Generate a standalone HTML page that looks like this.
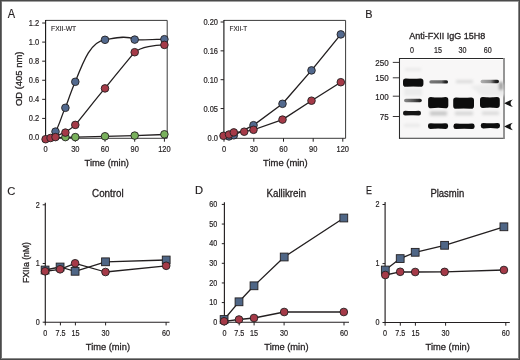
<!DOCTYPE html><html><head><meta charset="utf-8"><style>html,body{margin:0;padding:0;background:#fff;}svg{display:block;will-change:transform;}</style></head><body>
<svg width="520" height="360" viewBox="0 0 520 360" font-family='"Liberation Sans", sans-serif'>
<defs><filter id="b1" x="-20%" y="-50%" width="140%" height="200%"><feGaussianBlur stdDeviation="0.65"/></filter><filter id="b2" x="-20%" y="-80%" width="140%" height="260%"><feGaussianBlur stdDeviation="1.6"/></filter></defs>
<rect x="0" y="0" width="520" height="360" fill="#fff"/>
<text x="7.7" y="17.8" font-size="12.0" text-anchor="start" fill="#231f20" stroke="#231f20" stroke-width="0.15" textLength="7.36" lengthAdjust="spacingAndGlyphs">A</text>
<text x="365.3" y="17.7" font-size="11.8" text-anchor="start" fill="#231f20" stroke="#231f20" stroke-width="0.2" textLength="7.24" lengthAdjust="spacingAndGlyphs">B</text>
<text x="7.2" y="194.5" font-size="11.7" text-anchor="start" fill="#231f20" stroke="#231f20" stroke-width="0.15" textLength="8.11" lengthAdjust="spacingAndGlyphs">C</text>
<text x="195.0" y="194.3" font-size="11.4" text-anchor="start" fill="#231f20" stroke="#231f20" stroke-width="0.2" textLength="8.07" lengthAdjust="spacingAndGlyphs">D</text>
<text x="366.0" y="194.3" font-size="11.4" text-anchor="start" fill="#231f20" stroke="#231f20" stroke-width="0.25" textLength="5.93" lengthAdjust="spacingAndGlyphs">E</text>
<path d="M45.6,138.3 L167.2,138.3 L167.2,20.4 L45.6,20.4" fill="none" stroke="#3a3a3a" stroke-width="1"/>
<line x1="45.6" y1="19.9" x2="45.6" y2="138.8" stroke="#111" stroke-width="1.1"/>
<line x1="42.2" y1="137.5" x2="45.6" y2="137.5" stroke="#231f20" stroke-width="1"/>
<text x="39.2" y="140.4" font-size="8.7" text-anchor="end" fill="#231f20" stroke="#231f20" stroke-width="0.2" textLength="10.4" lengthAdjust="spacingAndGlyphs">0.0</text>
<line x1="42.2" y1="118.42" x2="45.6" y2="118.42" stroke="#231f20" stroke-width="1"/>
<text x="39.2" y="121.32000000000001" font-size="8.7" text-anchor="end" fill="#231f20" stroke="#231f20" stroke-width="0.2" textLength="10.4" lengthAdjust="spacingAndGlyphs">0.2</text>
<line x1="42.2" y1="99.34" x2="45.6" y2="99.34" stroke="#231f20" stroke-width="1"/>
<text x="39.2" y="102.24000000000001" font-size="8.7" text-anchor="end" fill="#231f20" stroke="#231f20" stroke-width="0.2" textLength="10.4" lengthAdjust="spacingAndGlyphs">0.4</text>
<line x1="42.2" y1="80.26000000000002" x2="45.6" y2="80.26000000000002" stroke="#231f20" stroke-width="1"/>
<text x="39.2" y="83.16000000000003" font-size="8.7" text-anchor="end" fill="#231f20" stroke="#231f20" stroke-width="0.2" textLength="10.4" lengthAdjust="spacingAndGlyphs">0.6</text>
<line x1="42.2" y1="61.18000000000001" x2="45.6" y2="61.18000000000001" stroke="#231f20" stroke-width="1"/>
<text x="39.2" y="64.08000000000001" font-size="8.7" text-anchor="end" fill="#231f20" stroke="#231f20" stroke-width="0.2" textLength="10.4" lengthAdjust="spacingAndGlyphs">0.8</text>
<line x1="42.2" y1="42.10000000000001" x2="45.6" y2="42.10000000000001" stroke="#231f20" stroke-width="1"/>
<text x="39.2" y="45.00000000000001" font-size="8.7" text-anchor="end" fill="#231f20" stroke="#231f20" stroke-width="0.2" textLength="10.4" lengthAdjust="spacingAndGlyphs">1.0</text>
<line x1="42.2" y1="23.020000000000024" x2="45.6" y2="23.020000000000024" stroke="#231f20" stroke-width="1"/>
<text x="39.2" y="25.920000000000023" font-size="8.7" text-anchor="end" fill="#231f20" stroke="#231f20" stroke-width="0.2" textLength="10.4" lengthAdjust="spacingAndGlyphs">1.2</text>
<line x1="45.6" y1="138.3" x2="45.6" y2="141.70000000000002" stroke="#231f20" stroke-width="1"/>
<text x="45.6" y="151.9" font-size="8.7" text-anchor="middle" fill="#231f20" stroke="#231f20" stroke-width="0.2" textLength="4.16" lengthAdjust="spacingAndGlyphs">0</text>
<line x1="75.3" y1="138.3" x2="75.3" y2="141.70000000000002" stroke="#231f20" stroke-width="1"/>
<text x="75.3" y="151.9" font-size="8.7" text-anchor="middle" fill="#231f20" stroke="#231f20" stroke-width="0.2" textLength="8.32" lengthAdjust="spacingAndGlyphs">30</text>
<line x1="105.0" y1="138.3" x2="105.0" y2="141.70000000000002" stroke="#231f20" stroke-width="1"/>
<text x="105.0" y="151.9" font-size="8.7" text-anchor="middle" fill="#231f20" stroke="#231f20" stroke-width="0.2" textLength="8.32" lengthAdjust="spacingAndGlyphs">60</text>
<line x1="134.7" y1="138.3" x2="134.7" y2="141.70000000000002" stroke="#231f20" stroke-width="1"/>
<text x="134.7" y="151.9" font-size="8.7" text-anchor="middle" fill="#231f20" stroke="#231f20" stroke-width="0.2" textLength="8.32" lengthAdjust="spacingAndGlyphs">90</text>
<line x1="164.4" y1="138.3" x2="164.4" y2="141.70000000000002" stroke="#231f20" stroke-width="1"/>
<text x="164.4" y="151.9" font-size="8.7" text-anchor="middle" fill="#231f20" stroke="#231f20" stroke-width="0.2" textLength="12.48" lengthAdjust="spacingAndGlyphs">120</text>
<text x="84.6" y="165.8" font-size="9.8" text-anchor="start" fill="#231f20" stroke="#231f20" stroke-width="0.3" textLength="44.4" lengthAdjust="spacingAndGlyphs">Time (min)</text>
<text x="22.2" y="78.8" font-size="9.8" text-anchor="middle" fill="#231f20" stroke="#231f20" stroke-width="0.3" textLength="54.6" lengthAdjust="spacingAndGlyphs" transform="rotate(-90 22.2 78.8)">OD (405 nm)</text>
<text x="51" y="30.5" font-size="7.3" text-anchor="start" fill="#231f20" stroke="#231f20" stroke-width="0.12" textLength="25.2" lengthAdjust="spacingAndGlyphs">FXII-WT</text>
<path d="M45.6,138.4 C49,138.2 52,134.5 55.5,131.6 C60,124 62,114 65.4,107.8 C69,98 72,89 75.3,81.8 C84,59.4 91.5,41.2 104.9,39.8 C111.8,38.9 125,34.3 134.7,39.4 C139,40.6 152,39.6 164.4,39.1" fill="none" stroke="#231f20" stroke-width="1.3"/>
<path d="M45.6,139.2 C48,138.8 51,138 55.5,136.6 C60,134.5 62,133.5 65.3,132.4 C69,130 72,128 75.3,124.9 C86,112 95,100 104.9,88.4 C114.8,76.3 125.6,63 134.7,52.2 C141,47 155,45 164.4,44.9" fill="none" stroke="#231f20" stroke-width="1.3"/>
<path d="M45.6,138 L75.3,137.1 L104.9,136.4 L134.7,135.6 L164.4,134.5" fill="none" stroke="#231f20" stroke-width="1.3"/>
<circle cx="65.4" cy="137.1" r="3.8" fill="#79b15c" stroke="#231f20" stroke-width="0.9"/>
<circle cx="75.3" cy="137.1" r="3.8" fill="#79b15c" stroke="#231f20" stroke-width="0.9"/>
<circle cx="105.0" cy="136.3" r="3.8" fill="#79b15c" stroke="#231f20" stroke-width="0.9"/>
<circle cx="134.7" cy="135.6" r="3.8" fill="#79b15c" stroke="#231f20" stroke-width="0.9"/>
<circle cx="164.4" cy="134.3" r="3.8" fill="#79b15c" stroke="#231f20" stroke-width="0.9"/>
<circle cx="55.5" cy="131.6" r="3.8" fill="#52698e" stroke="#231f20" stroke-width="0.9"/>
<circle cx="65.4" cy="107.8" r="3.8" fill="#52698e" stroke="#231f20" stroke-width="0.9"/>
<circle cx="75.3" cy="81.8" r="3.8" fill="#52698e" stroke="#231f20" stroke-width="0.9"/>
<circle cx="105.0" cy="39.8" r="3.8" fill="#52698e" stroke="#231f20" stroke-width="0.9"/>
<circle cx="134.7" cy="39.6" r="3.8" fill="#52698e" stroke="#231f20" stroke-width="0.9"/>
<circle cx="164.4" cy="39.2" r="3.8" fill="#52698e" stroke="#231f20" stroke-width="0.9"/>
<circle cx="45.6" cy="139.2" r="3.8" fill="#a53a48" stroke="#231f20" stroke-width="0.9"/>
<circle cx="50.550000000000004" cy="138" r="3.8" fill="#a53a48" stroke="#231f20" stroke-width="0.9"/>
<circle cx="55.5" cy="137.1" r="3.8" fill="#a53a48" stroke="#231f20" stroke-width="0.9"/>
<circle cx="65.4" cy="132.6" r="3.8" fill="#a53a48" stroke="#231f20" stroke-width="0.9"/>
<circle cx="75.3" cy="124.9" r="3.8" fill="#a53a48" stroke="#231f20" stroke-width="0.9"/>
<circle cx="105.0" cy="88.4" r="3.8" fill="#a53a48" stroke="#231f20" stroke-width="0.9"/>
<circle cx="134.7" cy="52.2" r="3.8" fill="#a53a48" stroke="#231f20" stroke-width="0.9"/>
<circle cx="164.4" cy="44.9" r="3.8" fill="#a53a48" stroke="#231f20" stroke-width="0.9"/>
<path d="M223.9,138.3 L345.6,138.3 L345.6,20.4 L223.9,20.4" fill="none" stroke="#3a3a3a" stroke-width="1"/>
<line x1="223.9" y1="19.9" x2="223.9" y2="138.8" stroke="#111" stroke-width="1.1"/>
<line x1="220.6" y1="137.4" x2="223.9" y2="137.4" stroke="#231f20" stroke-width="1"/>
<text x="218" y="141.0" font-size="8.7" text-anchor="end" fill="#231f20" stroke="#231f20" stroke-width="0.2" textLength="10.4" lengthAdjust="spacingAndGlyphs">0.0</text>
<line x1="220.6" y1="108.55000000000001" x2="223.9" y2="108.55000000000001" stroke="#231f20" stroke-width="1"/>
<text x="218" y="111.85000000000001" font-size="8.7" text-anchor="end" fill="#231f20" stroke="#231f20" stroke-width="0.2" textLength="14.56" lengthAdjust="spacingAndGlyphs">0.05</text>
<line x1="220.6" y1="79.7" x2="223.9" y2="79.7" stroke="#231f20" stroke-width="1"/>
<text x="218" y="83.0" font-size="8.7" text-anchor="end" fill="#231f20" stroke="#231f20" stroke-width="0.2" textLength="14.56" lengthAdjust="spacingAndGlyphs">0.10</text>
<line x1="220.6" y1="50.85000000000001" x2="223.9" y2="50.85000000000001" stroke="#231f20" stroke-width="1"/>
<text x="218" y="54.150000000000006" font-size="8.7" text-anchor="end" fill="#231f20" stroke="#231f20" stroke-width="0.2" textLength="14.56" lengthAdjust="spacingAndGlyphs">0.16</text>
<line x1="220.6" y1="22.0" x2="223.9" y2="22.0" stroke="#231f20" stroke-width="1"/>
<text x="218" y="25.3" font-size="8.7" text-anchor="end" fill="#231f20" stroke="#231f20" stroke-width="0.2" textLength="14.56" lengthAdjust="spacingAndGlyphs">0.20</text>
<line x1="224" y1="138.3" x2="224" y2="141.70000000000002" stroke="#231f20" stroke-width="1"/>
<text x="224" y="151.9" font-size="8.7" text-anchor="middle" fill="#231f20" stroke="#231f20" stroke-width="0.2" textLength="4.16" lengthAdjust="spacingAndGlyphs">0</text>
<line x1="253.8" y1="138.3" x2="253.8" y2="141.70000000000002" stroke="#231f20" stroke-width="1"/>
<text x="253.8" y="151.9" font-size="8.7" text-anchor="middle" fill="#231f20" stroke="#231f20" stroke-width="0.2" textLength="8.32" lengthAdjust="spacingAndGlyphs">30</text>
<line x1="283.5" y1="138.3" x2="283.5" y2="141.70000000000002" stroke="#231f20" stroke-width="1"/>
<text x="283.5" y="151.9" font-size="8.7" text-anchor="middle" fill="#231f20" stroke="#231f20" stroke-width="0.2" textLength="8.32" lengthAdjust="spacingAndGlyphs">60</text>
<line x1="313.2" y1="138.3" x2="313.2" y2="141.70000000000002" stroke="#231f20" stroke-width="1"/>
<text x="313.2" y="151.9" font-size="8.7" text-anchor="middle" fill="#231f20" stroke="#231f20" stroke-width="0.2" textLength="8.32" lengthAdjust="spacingAndGlyphs">90</text>
<line x1="342.8" y1="138.3" x2="342.8" y2="141.70000000000002" stroke="#231f20" stroke-width="1"/>
<text x="342.8" y="151.9" font-size="8.7" text-anchor="middle" fill="#231f20" stroke="#231f20" stroke-width="0.2" textLength="12.48" lengthAdjust="spacingAndGlyphs">120</text>
<text x="263.1" y="165.8" font-size="9.8" text-anchor="start" fill="#231f20" stroke="#231f20" stroke-width="0.3" textLength="44.6" lengthAdjust="spacingAndGlyphs">Time (min)</text>
<text x="229.5" y="30.8" font-size="7.3" text-anchor="start" fill="#231f20" stroke="#231f20" stroke-width="0.12" textLength="17.8" lengthAdjust="spacingAndGlyphs">FXII-T</text>
<polyline points="223.5,137 229,136.4 233.8,135.3 253.5,125.2 282.5,103.8 311.5,70.4 340.8,34.4" fill="none" stroke="#231f20" stroke-width="1.35" stroke-linejoin="round"/>
<polyline points="223.5,135.8 229,134.5 233.8,132.4 244.2,131.7 253.5,129.8 282.5,119.6 311.5,100.7 340.8,82.2" fill="none" stroke="#231f20" stroke-width="1.35" stroke-linejoin="round"/>
<circle cx="229" cy="136.4" r="3.8" fill="#52698e" stroke="#231f20" stroke-width="0.9"/>
<circle cx="233.8" cy="135.3" r="3.8" fill="#52698e" stroke="#231f20" stroke-width="0.9"/>
<circle cx="253.5" cy="125.2" r="3.8" fill="#52698e" stroke="#231f20" stroke-width="0.9"/>
<circle cx="282.5" cy="103.8" r="3.8" fill="#52698e" stroke="#231f20" stroke-width="0.9"/>
<circle cx="311.5" cy="70.4" r="3.8" fill="#52698e" stroke="#231f20" stroke-width="0.9"/>
<circle cx="340.8" cy="34.4" r="3.8" fill="#52698e" stroke="#231f20" stroke-width="0.9"/>
<circle cx="223.5" cy="135.8" r="3.8" fill="#a53a48" stroke="#231f20" stroke-width="0.9"/>
<circle cx="229" cy="134.5" r="3.8" fill="#a53a48" stroke="#231f20" stroke-width="0.9"/>
<circle cx="233.8" cy="132.4" r="3.8" fill="#a53a48" stroke="#231f20" stroke-width="0.9"/>
<circle cx="244.2" cy="131.7" r="3.8" fill="#a53a48" stroke="#231f20" stroke-width="0.9"/>
<circle cx="253.5" cy="129.8" r="3.8" fill="#a53a48" stroke="#231f20" stroke-width="0.9"/>
<circle cx="282.5" cy="119.6" r="3.8" fill="#a53a48" stroke="#231f20" stroke-width="0.9"/>
<circle cx="311.5" cy="100.7" r="3.8" fill="#a53a48" stroke="#231f20" stroke-width="0.9"/>
<circle cx="340.8" cy="82.2" r="3.8" fill="#a53a48" stroke="#231f20" stroke-width="0.9"/>
<text x="409.2" y="38.8" font-size="9.3" text-anchor="start" fill="#231f20" stroke="#231f20" stroke-width="0.3" textLength="76.2" lengthAdjust="spacingAndGlyphs">Anti-FXII IgG 15H8</text>
<text x="412" y="53.4" font-size="8.3" text-anchor="middle" fill="#231f20" stroke="#231f20" stroke-width="0.2" textLength="3.97" lengthAdjust="spacingAndGlyphs">0</text>
<text x="438" y="53.4" font-size="8.3" text-anchor="middle" fill="#231f20" stroke="#231f20" stroke-width="0.2" textLength="7.94" lengthAdjust="spacingAndGlyphs">15</text>
<text x="462.5" y="53.4" font-size="8.3" text-anchor="middle" fill="#231f20" stroke="#231f20" stroke-width="0.2" textLength="7.94" lengthAdjust="spacingAndGlyphs">30</text>
<text x="487.8" y="53.4" font-size="8.3" text-anchor="middle" fill="#231f20" stroke="#231f20" stroke-width="0.2" textLength="7.94" lengthAdjust="spacingAndGlyphs">60</text>
<line x1="392.8" y1="62.4" x2="399.6" y2="62.4" stroke="#231f20" stroke-width="0.9"/>
<text x="388.7" y="65.7" font-size="8.7" text-anchor="end" fill="#231f20" stroke="#231f20" stroke-width="0.2" textLength="13.35" lengthAdjust="spacingAndGlyphs">250</text>
<line x1="392.8" y1="77.8" x2="399.6" y2="77.8" stroke="#231f20" stroke-width="0.9"/>
<text x="388.7" y="81.1" font-size="8.7" text-anchor="end" fill="#231f20" stroke="#231f20" stroke-width="0.2" textLength="13.35" lengthAdjust="spacingAndGlyphs">150</text>
<line x1="392.8" y1="96.2" x2="399.6" y2="96.2" stroke="#231f20" stroke-width="0.9"/>
<text x="388.7" y="99.5" font-size="8.7" text-anchor="end" fill="#231f20" stroke="#231f20" stroke-width="0.2" textLength="13.35" lengthAdjust="spacingAndGlyphs">100</text>
<line x1="392.8" y1="116.5" x2="399.6" y2="116.5" stroke="#231f20" stroke-width="0.9"/>
<text x="388.7" y="119.8" font-size="8.7" text-anchor="end" fill="#231f20" stroke="#231f20" stroke-width="0.2" textLength="8.9" lengthAdjust="spacingAndGlyphs">75</text>
<rect x="400" y="59" width="103.6" height="79" fill="#fff"/>
<rect x="401" y="60" width="102.2" height="77" fill="#f8f7f7"/>
<line x1="399.5" y1="58" x2="399.5" y2="138.8" stroke="#2a2a2a" stroke-width="1.1"/>
<line x1="399" y1="58.5" x2="504.2" y2="58.5" stroke="#2a2a2a" stroke-width="1"/>
<line x1="399" y1="138.3" x2="504.6" y2="138.3" stroke="#333" stroke-width="1.1"/>
<line x1="504.0" y1="58" x2="504.0" y2="138.8" stroke="#8a8a8a" stroke-width="1.8"/>
<defs><linearGradient id="g1" x1="0" x2="1" y1="0" y2="0"><stop offset="0" stop-color="#8a8a8a"/><stop offset="0.5" stop-color="#5a5a5a"/><stop offset="0.85" stop-color="#2a2a2a"/><stop offset="1" stop-color="#1a1a1a"/></linearGradient><linearGradient id="g2" x1="0" x2="1" y1="0" y2="0"><stop offset="0" stop-color="#777"/><stop offset="0.65" stop-color="#666"/><stop offset="0.85" stop-color="#222"/><stop offset="1" stop-color="#111"/></linearGradient><linearGradient id="g4" x1="0" x2="1" y1="0" y2="0"><stop offset="0" stop-color="#b0b0b0"/><stop offset="0.55" stop-color="#8a8a8a"/><stop offset="0.8" stop-color="#2a2a2a"/><stop offset="1" stop-color="#111"/></linearGradient></defs>
<g filter="url(#b2)">
<rect x="405" y="68.6" width="16" height="1.8" fill="#e0e0e0"/>
<rect x="404" y="88" width="18" height="8" fill="#ebebeb"/>
<rect x="404" y="124.4" width="16" height="2" fill="#e2e2e2"/>
<rect x="430" y="111.4" width="17" height="4" fill="#c4c4c4"/>
<rect x="455" y="111.6" width="18" height="3.6" fill="#d4d4d4"/>
<rect x="482" y="111.6" width="17" height="3.2" fill="#d8d8d8"/>
<rect x="456" y="80.2" width="17" height="2.8" fill="#d8d8d8"/>
<path d="M470,86 L500,83 L504,84 L504,96 L482,96 Z" fill="#ececec"/>
<rect x="499" y="82" width="4" height="8" fill="#9a9a9a"/>
</g>
<g filter="url(#b1)">
<path d="M405.8,78.4 Q413.2,78.9 420.59999999999997,78.4 Q423.4,78.4 423.4,81.2 L423.4,83.9 Q423.4,86.7 420.59999999999997,86.7 Q413.2,86.2 405.8,86.7 Q403.0,86.7 403.0,83.9 L403.0,81.2 Q403.0,78.4 405.8,78.4 Z" fill="#0a0a0a"/>
<rect x="404" y="98.7" width="17.8" height="3.6" rx="1.8" fill="url(#g1)"/>
<path d="M405.2,110.7 Q412.0,111.10000000000001 418.8,110.7 Q421.0,110.7 421.0,112.9 L421.0,113.3 Q421.0,115.5 418.8,115.5 Q412.0,115.1 405.2,115.5 Q403.0,115.5 403.0,113.3 L403.0,112.9 Q403.0,110.7 405.2,110.7 Z" fill="#141414"/>
<rect x="429.4" y="80.2" width="18.6" height="3.4" rx="1.6" fill="url(#g2)"/>
<path d="M430.90000000000003,97.0 Q438.20000000000005,98.0 445.5,97.0 Q448.3,97.0 448.3,99.8 L448.3,105.4 Q448.3,108.2 445.5,108.2 Q438.20000000000005,107.2 430.90000000000003,108.2 Q428.1,108.2 428.1,105.4 L428.1,99.8 Q428.1,97.0 430.90000000000003,97.0 Z" fill="#0a0a0a"/>
<path d="M430.4,123.2 Q438.05,123.8 445.70000000000005,123.2 Q448.1,123.2 448.1,125.60000000000001 L448.1,126.5 Q448.1,128.9 445.70000000000005,128.9 Q438.05,128.3 430.4,128.9 Q428.0,128.9 428.0,126.5 L428.0,125.60000000000001 Q428.0,123.2 430.4,123.2 Z" fill="#0a0a0a"/>
<path d="M456.0,97.4 Q463.6,98.0 471.2,97.4 Q474.0,97.4 474.0,100.2 L474.0,105.9 Q474.0,108.7 471.2,108.7 Q463.6,108.10000000000001 456.0,108.7 Q453.2,108.7 453.2,105.9 L453.2,100.2 Q453.2,97.4 456.0,97.4 Z" fill="#0a0a0a"/>
<path d="M455.9,123.5 Q464.05,124.1 472.20000000000005,123.5 Q474.6,123.5 474.6,125.9 L474.6,126.69999999999999 Q474.6,129.1 472.20000000000005,129.1 Q464.05,128.5 455.9,129.1 Q453.5,129.1 453.5,126.69999999999999 L453.5,125.9 Q453.5,123.5 455.9,123.5 Z" fill="#0a0a0a"/>
<rect x="480.6" y="79.8" width="18.4" height="3.4" rx="1.6" fill="url(#g4)"/>
<path d="M482.8,97.0 Q489.9,97.8 497.0,97.0 Q499.8,97.0 499.8,99.8 L499.8,105.10000000000001 Q499.8,107.9 497.0,107.9 Q489.9,107.10000000000001 482.8,107.9 Q480.0,107.9 480.0,105.10000000000001 L480.0,99.8 Q480.0,97.0 482.8,97.0 Z" fill="#0a0a0a"/>
<path d="M483.2,122.9 Q490.4,123.5 497.6,122.9 Q500.0,122.9 500.0,125.30000000000001 L500.0,126.0 Q500.0,128.4 497.6,128.4 Q490.4,127.80000000000001 483.2,128.4 Q480.8,128.4 480.8,126.0 L480.8,125.30000000000001 Q480.8,122.9 483.2,122.9 Z" fill="#0a0a0a"/>
</g>
<path d="M504.2,103.3 C507,101.7 510,100.39999999999999 512.9,99.6 C511,101.2 510.6,102.3 510.6,103.3 C510.6,104.3 511,105.39999999999999 512.9,107.0 C510,106.2 507,104.89999999999999 504.2,103.3 Z" fill="#111"/>
<path d="M504.2,126.5 C507,124.9 510,123.6 512.9,122.8 C511,124.4 510.6,125.5 510.6,126.5 C510.6,127.5 511,128.6 512.9,130.2 C510,129.4 507,128.1 504.2,126.5 Z" fill="#111"/>
<line x1="45.3" y1="202.8" x2="45.3" y2="322.7" stroke="#231f20" stroke-width="1.15"/>
<line x1="44.8" y1="322.2" x2="169.5" y2="322.2" stroke="#231f20" stroke-width="1.15"/>
<line x1="42.699999999999996" y1="204.8" x2="45.3" y2="204.8" stroke="#231f20" stroke-width="1"/>
<text x="39.699999999999996" y="207.55" font-size="8.4" text-anchor="end" fill="#231f20" stroke="#231f20" stroke-width="0.2" textLength="4.02" lengthAdjust="spacingAndGlyphs">2</text>
<line x1="42.699999999999996" y1="263.5" x2="45.3" y2="263.5" stroke="#231f20" stroke-width="1"/>
<text x="39.699999999999996" y="266.25" font-size="8.4" text-anchor="end" fill="#231f20" stroke="#231f20" stroke-width="0.2" textLength="4.02" lengthAdjust="spacingAndGlyphs">1</text>
<line x1="42.699999999999996" y1="322.2" x2="45.3" y2="322.2" stroke="#231f20" stroke-width="1"/>
<text x="39.699999999999996" y="324.95" font-size="8.4" text-anchor="end" fill="#231f20" stroke="#231f20" stroke-width="0.2" textLength="4.02" lengthAdjust="spacingAndGlyphs">0</text>
<line x1="45.3" y1="322.2" x2="45.3" y2="325.4" stroke="#231f20" stroke-width="1"/>
<text x="45.3" y="336.3" font-size="8.4" text-anchor="middle" fill="#231f20" stroke="#231f20" stroke-width="0.2" textLength="4.02" lengthAdjust="spacingAndGlyphs">0</text>
<line x1="60.4" y1="322.2" x2="60.4" y2="325.4" stroke="#231f20" stroke-width="1"/>
<text x="60.4" y="336.3" font-size="8.4" text-anchor="middle" fill="#231f20" stroke="#231f20" stroke-width="0.2" textLength="10.04" lengthAdjust="spacingAndGlyphs">7.5</text>
<line x1="75.4" y1="322.2" x2="75.4" y2="325.4" stroke="#231f20" stroke-width="1"/>
<text x="75.4" y="336.3" font-size="8.4" text-anchor="middle" fill="#231f20" stroke="#231f20" stroke-width="0.2" textLength="8.03" lengthAdjust="spacingAndGlyphs">15</text>
<line x1="105.6" y1="322.2" x2="105.6" y2="325.4" stroke="#231f20" stroke-width="1"/>
<text x="105.6" y="336.3" font-size="8.4" text-anchor="middle" fill="#231f20" stroke="#231f20" stroke-width="0.2" textLength="8.03" lengthAdjust="spacingAndGlyphs">30</text>
<line x1="166.1" y1="322.2" x2="166.1" y2="325.4" stroke="#231f20" stroke-width="1"/>
<text x="166.1" y="336.3" font-size="8.4" text-anchor="middle" fill="#231f20" stroke="#231f20" stroke-width="0.2" textLength="8.03" lengthAdjust="spacingAndGlyphs">60</text>
<text x="92.1" y="196.9" font-size="10" text-anchor="start" fill="#231f20" stroke="#231f20" stroke-width="0.3" textLength="31.6" lengthAdjust="spacingAndGlyphs">Control</text>
<text x="85.8" y="350" font-size="9.8" text-anchor="start" fill="#231f20" stroke="#231f20" stroke-width="0.3" textLength="44.2" lengthAdjust="spacingAndGlyphs">Time (min)</text>
<polyline points="45.1,270 60.1,267 75.1,271.3 105.5,261.8 166.2,260" fill="none" stroke="#231f20" stroke-width="1.3" stroke-linejoin="round"/>
<polyline points="45.1,271.3 60.1,269.3 75.1,263.3 105.5,272 166.2,265.8" fill="none" stroke="#231f20" stroke-width="1.3" stroke-linejoin="round"/>
<rect x="41.2" y="266.1" width="7.8" height="7.8" fill="#4f6686" stroke="#231f20" stroke-width="0.9"/>
<rect x="56.2" y="263.1" width="7.8" height="7.8" fill="#4f6686" stroke="#231f20" stroke-width="0.9"/>
<rect x="71.19999999999999" y="267.40000000000003" width="7.8" height="7.8" fill="#4f6686" stroke="#231f20" stroke-width="0.9"/>
<rect x="101.6" y="257.90000000000003" width="7.8" height="7.8" fill="#4f6686" stroke="#231f20" stroke-width="0.9"/>
<rect x="162.29999999999998" y="256.1" width="7.8" height="7.8" fill="#4f6686" stroke="#231f20" stroke-width="0.9"/>
<circle cx="45.1" cy="271.3" r="3.85" fill="#a53a48" stroke="#231f20" stroke-width="0.9"/>
<circle cx="60.1" cy="269.3" r="3.85" fill="#a53a48" stroke="#231f20" stroke-width="0.9"/>
<circle cx="75.1" cy="263.3" r="3.85" fill="#a53a48" stroke="#231f20" stroke-width="0.9"/>
<circle cx="105.5" cy="272" r="3.85" fill="#a53a48" stroke="#231f20" stroke-width="0.9"/>
<circle cx="166.2" cy="265.8" r="3.85" fill="#a53a48" stroke="#231f20" stroke-width="0.9"/>
<text x="29.4" y="262.5" font-size="9.6" text-anchor="middle" fill="#231f20" stroke="#231f20" stroke-width="0.3" textLength="41" lengthAdjust="spacingAndGlyphs" transform="rotate(-90 29.4 262.5)">FXIIa (nM)</text>
<line x1="224.4" y1="202.3" x2="224.4" y2="322.7" stroke="#231f20" stroke-width="1.15"/>
<line x1="223.9" y1="322.2" x2="349" y2="322.2" stroke="#231f20" stroke-width="1.15"/>
<line x1="221.8" y1="322.2" x2="224.4" y2="322.2" stroke="#231f20" stroke-width="1"/>
<text x="217.20000000000002" y="324.95" font-size="8.4" text-anchor="end" fill="#231f20" stroke="#231f20" stroke-width="0.2" textLength="4.02" lengthAdjust="spacingAndGlyphs">0</text>
<line x1="221.8" y1="302.57" x2="224.4" y2="302.57" stroke="#231f20" stroke-width="1"/>
<text x="217.20000000000002" y="305.32" font-size="8.4" text-anchor="end" fill="#231f20" stroke="#231f20" stroke-width="0.2" textLength="8.03" lengthAdjust="spacingAndGlyphs">10</text>
<line x1="221.8" y1="282.94" x2="224.4" y2="282.94" stroke="#231f20" stroke-width="1"/>
<text x="217.20000000000002" y="285.69" font-size="8.4" text-anchor="end" fill="#231f20" stroke="#231f20" stroke-width="0.2" textLength="8.03" lengthAdjust="spacingAndGlyphs">20</text>
<line x1="221.8" y1="263.31" x2="224.4" y2="263.31" stroke="#231f20" stroke-width="1"/>
<text x="217.20000000000002" y="266.06" font-size="8.4" text-anchor="end" fill="#231f20" stroke="#231f20" stroke-width="0.2" textLength="8.03" lengthAdjust="spacingAndGlyphs">30</text>
<line x1="221.8" y1="243.67999999999998" x2="224.4" y2="243.67999999999998" stroke="#231f20" stroke-width="1"/>
<text x="217.20000000000002" y="246.42999999999998" font-size="8.4" text-anchor="end" fill="#231f20" stroke="#231f20" stroke-width="0.2" textLength="8.03" lengthAdjust="spacingAndGlyphs">40</text>
<line x1="221.8" y1="224.04999999999998" x2="224.4" y2="224.04999999999998" stroke="#231f20" stroke-width="1"/>
<text x="217.20000000000002" y="226.79999999999998" font-size="8.4" text-anchor="end" fill="#231f20" stroke="#231f20" stroke-width="0.2" textLength="8.03" lengthAdjust="spacingAndGlyphs">50</text>
<line x1="221.8" y1="204.42" x2="224.4" y2="204.42" stroke="#231f20" stroke-width="1"/>
<text x="217.20000000000002" y="207.17" font-size="8.4" text-anchor="end" fill="#231f20" stroke="#231f20" stroke-width="0.2" textLength="8.03" lengthAdjust="spacingAndGlyphs">60</text>
<line x1="224.4" y1="322.2" x2="224.4" y2="325.4" stroke="#231f20" stroke-width="1"/>
<text x="224.4" y="336.3" font-size="8.4" text-anchor="middle" fill="#231f20" stroke="#231f20" stroke-width="0.2" textLength="4.02" lengthAdjust="spacingAndGlyphs">0</text>
<line x1="239.2" y1="322.2" x2="239.2" y2="325.4" stroke="#231f20" stroke-width="1"/>
<text x="239.2" y="336.3" font-size="8.4" text-anchor="middle" fill="#231f20" stroke="#231f20" stroke-width="0.2" textLength="10.04" lengthAdjust="spacingAndGlyphs">7.5</text>
<line x1="254.1" y1="322.2" x2="254.1" y2="325.4" stroke="#231f20" stroke-width="1"/>
<text x="254.1" y="336.3" font-size="8.4" text-anchor="middle" fill="#231f20" stroke="#231f20" stroke-width="0.2" textLength="8.03" lengthAdjust="spacingAndGlyphs">15</text>
<line x1="284.1" y1="322.2" x2="284.1" y2="325.4" stroke="#231f20" stroke-width="1"/>
<text x="284.1" y="336.3" font-size="8.4" text-anchor="middle" fill="#231f20" stroke="#231f20" stroke-width="0.2" textLength="8.03" lengthAdjust="spacingAndGlyphs">30</text>
<line x1="344.0" y1="322.2" x2="344.0" y2="325.4" stroke="#231f20" stroke-width="1"/>
<text x="344.0" y="336.3" font-size="8.4" text-anchor="middle" fill="#231f20" stroke="#231f20" stroke-width="0.2" textLength="8.03" lengthAdjust="spacingAndGlyphs">60</text>
<text x="266.5" y="196.7" font-size="10" text-anchor="start" fill="#231f20" stroke="#231f20" stroke-width="0.3" textLength="39.6" lengthAdjust="spacingAndGlyphs">Kallikrein</text>
<text x="264.3" y="350" font-size="9.8" text-anchor="start" fill="#231f20" stroke="#231f20" stroke-width="0.3" textLength="44.2" lengthAdjust="spacingAndGlyphs">Time (min)</text>
<polyline points="224.1,319.5 239.0,301.8 254.0,285.8 284.2,257 343.8,218" fill="none" stroke="#231f20" stroke-width="1.3" stroke-linejoin="round"/>
<polyline points="224.1,321.3 239.0,319.5 254.0,318 284.2,312 343.8,312" fill="none" stroke="#231f20" stroke-width="1.3" stroke-linejoin="round"/>
<rect x="220.2" y="315.6" width="7.8" height="7.8" fill="#4f6686" stroke="#231f20" stroke-width="0.9"/>
<rect x="235.1" y="297.90000000000003" width="7.8" height="7.8" fill="#4f6686" stroke="#231f20" stroke-width="0.9"/>
<rect x="250.1" y="281.90000000000003" width="7.8" height="7.8" fill="#4f6686" stroke="#231f20" stroke-width="0.9"/>
<rect x="280.3" y="253.1" width="7.8" height="7.8" fill="#4f6686" stroke="#231f20" stroke-width="0.9"/>
<rect x="339.90000000000003" y="214.1" width="7.8" height="7.8" fill="#4f6686" stroke="#231f20" stroke-width="0.9"/>
<circle cx="224.1" cy="321.3" r="3.85" fill="#a53a48" stroke="#231f20" stroke-width="0.9"/>
<circle cx="239.0" cy="319.5" r="3.85" fill="#a53a48" stroke="#231f20" stroke-width="0.9"/>
<circle cx="254.0" cy="318" r="3.85" fill="#a53a48" stroke="#231f20" stroke-width="0.9"/>
<circle cx="284.2" cy="312" r="3.85" fill="#a53a48" stroke="#231f20" stroke-width="0.9"/>
<circle cx="343.8" cy="312" r="3.85" fill="#a53a48" stroke="#231f20" stroke-width="0.9"/>
<line x1="385.1" y1="202.0" x2="385.1" y2="323.0" stroke="#231f20" stroke-width="1.15"/>
<line x1="384.6" y1="322.5" x2="509.8" y2="322.5" stroke="#231f20" stroke-width="1.15"/>
<line x1="382.5" y1="204.5" x2="385.1" y2="204.5" stroke="#231f20" stroke-width="1"/>
<text x="379.5" y="207.25" font-size="8.4" text-anchor="end" fill="#231f20" stroke="#231f20" stroke-width="0.2" textLength="4.02" lengthAdjust="spacingAndGlyphs">2</text>
<line x1="382.5" y1="263.6" x2="385.1" y2="263.6" stroke="#231f20" stroke-width="1"/>
<text x="379.5" y="266.35" font-size="8.4" text-anchor="end" fill="#231f20" stroke="#231f20" stroke-width="0.2" textLength="4.02" lengthAdjust="spacingAndGlyphs">1</text>
<line x1="382.5" y1="322.5" x2="385.1" y2="322.5" stroke="#231f20" stroke-width="1"/>
<text x="379.5" y="325.25" font-size="8.4" text-anchor="end" fill="#231f20" stroke="#231f20" stroke-width="0.2" textLength="4.02" lengthAdjust="spacingAndGlyphs">0</text>
<line x1="385.1" y1="322.5" x2="385.1" y2="325.7" stroke="#231f20" stroke-width="1"/>
<text x="385.1" y="336.3" font-size="8.4" text-anchor="middle" fill="#231f20" stroke="#231f20" stroke-width="0.2" textLength="4.02" lengthAdjust="spacingAndGlyphs">0</text>
<line x1="400.3" y1="322.5" x2="400.3" y2="325.7" stroke="#231f20" stroke-width="1"/>
<text x="400.3" y="336.3" font-size="8.4" text-anchor="middle" fill="#231f20" stroke="#231f20" stroke-width="0.2" textLength="10.04" lengthAdjust="spacingAndGlyphs">7.5</text>
<line x1="415.4" y1="322.5" x2="415.4" y2="325.7" stroke="#231f20" stroke-width="1"/>
<text x="415.4" y="336.3" font-size="8.4" text-anchor="middle" fill="#231f20" stroke="#231f20" stroke-width="0.2" textLength="8.03" lengthAdjust="spacingAndGlyphs">15</text>
<line x1="445.6" y1="322.5" x2="445.6" y2="325.7" stroke="#231f20" stroke-width="1"/>
<text x="445.6" y="336.3" font-size="8.4" text-anchor="middle" fill="#231f20" stroke="#231f20" stroke-width="0.2" textLength="8.03" lengthAdjust="spacingAndGlyphs">30</text>
<line x1="505.8" y1="322.5" x2="505.8" y2="325.7" stroke="#231f20" stroke-width="1"/>
<text x="505.8" y="336.3" font-size="8.4" text-anchor="middle" fill="#231f20" stroke="#231f20" stroke-width="0.2" textLength="8.03" lengthAdjust="spacingAndGlyphs">60</text>
<text x="430.4" y="196.5" font-size="10" text-anchor="start" fill="#231f20" stroke="#231f20" stroke-width="0.3" textLength="33.8" lengthAdjust="spacingAndGlyphs">Plasmin</text>
<text x="425.6" y="350" font-size="9.8" text-anchor="start" fill="#231f20" stroke="#231f20" stroke-width="0.3" textLength="44.2" lengthAdjust="spacingAndGlyphs">Time (min)</text>
<polyline points="385.3,270 400.2,258.6 415.2,252.3 444.6,245.3 503.9,226.8" fill="none" stroke="#231f20" stroke-width="1.3" stroke-linejoin="round"/>
<polyline points="385.3,275 400.2,271.8 415.2,272 444.6,271.9 503.9,270" fill="none" stroke="#231f20" stroke-width="1.3" stroke-linejoin="round"/>
<rect x="381.40000000000003" y="266.1" width="7.8" height="7.8" fill="#4f6686" stroke="#231f20" stroke-width="0.9"/>
<rect x="396.3" y="254.70000000000002" width="7.8" height="7.8" fill="#4f6686" stroke="#231f20" stroke-width="0.9"/>
<rect x="411.3" y="248.4" width="7.8" height="7.8" fill="#4f6686" stroke="#231f20" stroke-width="0.9"/>
<rect x="440.70000000000005" y="241.4" width="7.8" height="7.8" fill="#4f6686" stroke="#231f20" stroke-width="0.9"/>
<rect x="500.0" y="222.9" width="7.8" height="7.8" fill="#4f6686" stroke="#231f20" stroke-width="0.9"/>
<circle cx="385.3" cy="275" r="3.85" fill="#a53a48" stroke="#231f20" stroke-width="0.9"/>
<circle cx="400.2" cy="271.8" r="3.85" fill="#a53a48" stroke="#231f20" stroke-width="0.9"/>
<circle cx="415.2" cy="272" r="3.85" fill="#a53a48" stroke="#231f20" stroke-width="0.9"/>
<circle cx="444.6" cy="271.9" r="3.85" fill="#a53a48" stroke="#231f20" stroke-width="0.9"/>
<circle cx="503.9" cy="270" r="3.85" fill="#a53a48" stroke="#231f20" stroke-width="0.9"/>
<rect x="0" y="1" width="520" height="1" fill="#a0a0a0"/>
<rect x="1" y="0" width="1" height="360" fill="#707070"/>
<rect x="518" y="0" width="1" height="360" fill="#858585"/>
<rect x="0" y="358" width="520" height="1" fill="#8a8a8a"/>
<rect x="0" y="0" width="520" height="1" fill="#4a4a4a"/>
<rect x="0" y="0" width="1" height="360" fill="#4a4a4a"/>
<rect x="519" y="0" width="1" height="360" fill="#4a4a4a"/>
<rect x="0" y="359" width="520" height="1" fill="#4a4a4a"/>
</svg></body></html>
